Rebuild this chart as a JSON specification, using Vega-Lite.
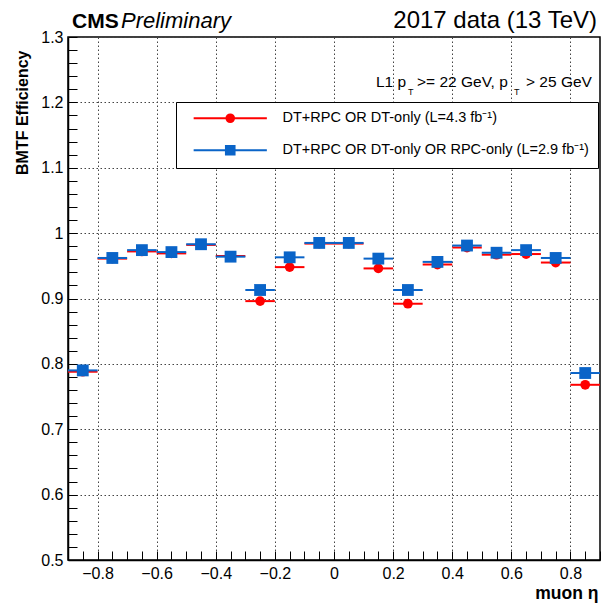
{
  "$schema": "https://vega.github.io/schema/vega-lite/v6.json",
  "width": 532,
  "height": 523,
  "autosize": {"type": "none"},
  "padding": {"left": 68, "top": 37, "right": 3, "bottom": 46},
  "background": "white",
  "config": {
    "view": {"stroke": "black", "strokeWidth": 1.5},
    "font": "Liberation Sans"
  },
  "datasets": {
    "eff": [
      {"eta": -0.85, "etaLo": -0.9, "etaHi": -0.8, "eff": 0.788, "series": "DT+RPC OR DT-only (L=4.3 fb⁻¹)"},
      {"eta": -0.75, "etaLo": -0.8, "etaHi": -0.7, "eff": 0.961, "series": "DT+RPC OR DT-only (L=4.3 fb⁻¹)"},
      {"eta": -0.65, "etaLo": -0.7, "etaHi": -0.6, "eff": 0.972, "series": "DT+RPC OR DT-only (L=4.3 fb⁻¹)"},
      {"eta": -0.55, "etaLo": -0.6, "etaHi": -0.5, "eff": 0.969, "series": "DT+RPC OR DT-only (L=4.3 fb⁻¹)"},
      {"eta": -0.45, "etaLo": -0.5, "etaHi": -0.4, "eff": 0.982, "series": "DT+RPC OR DT-only (L=4.3 fb⁻¹)"},
      {"eta": -0.35, "etaLo": -0.4, "etaHi": -0.3, "eff": 0.965, "series": "DT+RPC OR DT-only (L=4.3 fb⁻¹)"},
      {"eta": -0.25, "etaLo": -0.3, "etaHi": -0.2, "eff": 0.896, "series": "DT+RPC OR DT-only (L=4.3 fb⁻¹)"},
      {"eta": -0.15, "etaLo": -0.2, "etaHi": -0.1, "eff": 0.948, "series": "DT+RPC OR DT-only (L=4.3 fb⁻¹)"},
      {"eta": -0.05, "etaLo": -0.1, "etaHi": 0.0, "eff": 0.984, "series": "DT+RPC OR DT-only (L=4.3 fb⁻¹)"},
      {"eta": 0.05, "etaLo": 0.0, "etaHi": 0.1, "eff": 0.984, "series": "DT+RPC OR DT-only (L=4.3 fb⁻¹)"},
      {"eta": 0.15, "etaLo": 0.1, "etaHi": 0.2, "eff": 0.946, "series": "DT+RPC OR DT-only (L=4.3 fb⁻¹)"},
      {"eta": 0.25, "etaLo": 0.2, "etaHi": 0.3, "eff": 0.892, "series": "DT+RPC OR DT-only (L=4.3 fb⁻¹)"},
      {"eta": 0.35, "etaLo": 0.3, "etaHi": 0.4, "eff": 0.952, "series": "DT+RPC OR DT-only (L=4.3 fb⁻¹)"},
      {"eta": 0.45, "etaLo": 0.4, "etaHi": 0.5, "eff": 0.978, "series": "DT+RPC OR DT-only (L=4.3 fb⁻¹)"},
      {"eta": 0.55, "etaLo": 0.5, "etaHi": 0.6, "eff": 0.967, "series": "DT+RPC OR DT-only (L=4.3 fb⁻¹)"},
      {"eta": 0.65, "etaLo": 0.6, "etaHi": 0.7, "eff": 0.968, "series": "DT+RPC OR DT-only (L=4.3 fb⁻¹)"},
      {"eta": 0.75, "etaLo": 0.7, "etaHi": 0.8, "eff": 0.955, "series": "DT+RPC OR DT-only (L=4.3 fb⁻¹)"},
      {"eta": 0.85, "etaLo": 0.8, "etaHi": 0.9, "eff": 0.768, "series": "DT+RPC OR DT-only (L=4.3 fb⁻¹)"},
      {"eta": -0.85, "etaLo": -0.9, "etaHi": -0.8, "eff": 0.790, "series": "DT+RPC OR DT-only OR RPC-only (L=2.9 fb⁻¹)"},
      {"eta": -0.75, "etaLo": -0.8, "etaHi": -0.7, "eff": 0.962, "series": "DT+RPC OR DT-only OR RPC-only (L=2.9 fb⁻¹)"},
      {"eta": -0.65, "etaLo": -0.7, "etaHi": -0.6, "eff": 0.974, "series": "DT+RPC OR DT-only OR RPC-only (L=2.9 fb⁻¹)"},
      {"eta": -0.55, "etaLo": -0.6, "etaHi": -0.5, "eff": 0.971, "series": "DT+RPC OR DT-only OR RPC-only (L=2.9 fb⁻¹)"},
      {"eta": -0.45, "etaLo": -0.5, "etaHi": -0.4, "eff": 0.983, "series": "DT+RPC OR DT-only OR RPC-only (L=2.9 fb⁻¹)"},
      {"eta": -0.35, "etaLo": -0.4, "etaHi": -0.3, "eff": 0.964, "series": "DT+RPC OR DT-only OR RPC-only (L=2.9 fb⁻¹)"},
      {"eta": -0.25, "etaLo": -0.3, "etaHi": -0.2, "eff": 0.913, "series": "DT+RPC OR DT-only OR RPC-only (L=2.9 fb⁻¹)"},
      {"eta": -0.15, "etaLo": -0.2, "etaHi": -0.1, "eff": 0.963, "series": "DT+RPC OR DT-only OR RPC-only (L=2.9 fb⁻¹)"},
      {"eta": -0.05, "etaLo": -0.1, "etaHi": 0.0, "eff": 0.985, "series": "DT+RPC OR DT-only OR RPC-only (L=2.9 fb⁻¹)"},
      {"eta": 0.05, "etaLo": 0.0, "etaHi": 0.1, "eff": 0.985, "series": "DT+RPC OR DT-only OR RPC-only (L=2.9 fb⁻¹)"},
      {"eta": 0.15, "etaLo": 0.1, "etaHi": 0.2, "eff": 0.961, "series": "DT+RPC OR DT-only OR RPC-only (L=2.9 fb⁻¹)"},
      {"eta": 0.25, "etaLo": 0.2, "etaHi": 0.3, "eff": 0.913, "series": "DT+RPC OR DT-only OR RPC-only (L=2.9 fb⁻¹)"},
      {"eta": 0.35, "etaLo": 0.3, "etaHi": 0.4, "eff": 0.956, "series": "DT+RPC OR DT-only OR RPC-only (L=2.9 fb⁻¹)"},
      {"eta": 0.45, "etaLo": 0.4, "etaHi": 0.5, "eff": 0.981, "series": "DT+RPC OR DT-only OR RPC-only (L=2.9 fb⁻¹)"},
      {"eta": 0.55, "etaLo": 0.5, "etaHi": 0.6, "eff": 0.970, "series": "DT+RPC OR DT-only OR RPC-only (L=2.9 fb⁻¹)"},
      {"eta": 0.65, "etaLo": 0.6, "etaHi": 0.7, "eff": 0.974, "series": "DT+RPC OR DT-only OR RPC-only (L=2.9 fb⁻¹)"},
      {"eta": 0.75, "etaLo": 0.7, "etaHi": 0.8, "eff": 0.962, "series": "DT+RPC OR DT-only OR RPC-only (L=2.9 fb⁻¹)"},
      {"eta": 0.85, "etaLo": 0.8, "etaHi": 0.9, "eff": 0.786, "series": "DT+RPC OR DT-only OR RPC-only (L=2.9 fb⁻¹)"}
    ]
  },
  "data": {"name": "eff"},
  "layer": [
    {
      "mark": {"type": "rule", "strokeWidth": 2},
      "encoding": {
        "x": {
          "field": "etaLo", "type": "quantitative",
          "scale": {"domain": [-0.9, 0.9], "nice": false, "zero": false},
          "axis": {
            "values": [-0.9,-0.85,-0.8,-0.75,-0.7,-0.65,-0.6,-0.55,-0.5,-0.45,-0.4,-0.35,-0.3,-0.25,-0.2,-0.15,-0.1,-0.05,0,0.05,0.1,0.15,0.2,0.25,0.3,0.35,0.4,0.45,0.5,0.55,0.6,0.65,0.7,0.75,0.8,0.85,0.9],
            "tickCount": 37,
            "format": ".1~f",
            "labelExpr": "abs(datum.value*5 - round(datum.value*5)) < 0.000001 ? datum.label : ''",
            "ticks": true,
            "tickSize": -9,
            "gridOpacity": {"condition": {"test": "abs(datum.value*5 - round(datum.value*5)) < 0.000001", "value": 1}, "value": 0},
            "grid": true, "gridColor": "#444", "gridDash": [1.5, 2.5], "gridWidth": 1,
            "tickColor": "black", "tickWidth": 1, "tickOpacity": 1,
            "domainColor": "black", "domainWidth": 1.5,
            "labelFont": "Liberation Sans", "labelFontSize": 16, "labelColor": "black", "labelPadding": 14,
            "labelFlush": false, "labelOverlap": false,
            "title": "muon η", "titleFont": "Liberation Sans", "titleFontSize": 17.5, "titleFontWeight": "bold", "titleColor": "black",
            "titleAnchor": "end", "titleAlign": "right", "titleX": 530, "titleY": 38, "titleBaseline": "alphabetic"
          }
        },
        "x2": {"field": "etaHi"},
        "y": {
          "field": "eff", "type": "quantitative",
          "scale": {"domain": [0.5, 1.3], "nice": false, "zero": false},
          "axis": {
            "values": [0.5,0.52,0.54,0.56,0.58,0.6,0.62,0.64,0.66,0.68,0.7,0.72,0.74,0.76,0.78,0.8,0.82,0.84,0.86,0.88,0.9,0.92,0.94,0.96,0.98,1,1.02,1.04,1.06,1.08,1.1,1.12,1.14,1.16,1.18,1.2,1.22,1.24,1.26,1.28,1.3],
            "tickCount": 41,
            "format": ".1~f",
            "labelExpr": "abs(datum.value*10 - round(datum.value*10)) < 0.000001 ? datum.label : ''",
            "ticks": true,
            "tickSize": -9,
            "gridOpacity": {"condition": {"test": "abs(datum.value*10 - round(datum.value*10)) < 0.000001", "value": 1}, "value": 0},
            "grid": true, "gridColor": "#444", "gridDash": [1.5, 2.5], "gridWidth": 1,
            "tickColor": "black", "tickWidth": 1, "tickOpacity": 1,
            "domainColor": "black", "domainWidth": 1.5,
            "labelFont": "Liberation Sans", "labelFontSize": 16, "labelColor": "black", "labelPadding": 14,
            "labelFlush": false, "labelOverlap": false,
            "title": "BMTF Efficiency", "titleFont": "Liberation Sans", "titleFontSize": 16, "titleFontWeight": "bold", "titleColor": "black",
            "titleAnchor": "end", "titleX": -41, "titleY": 13, "titleBaseline": "alphabetic", "titleAlign": "right", "titleAngle": -90
          }
        },
        "color": {
          "field": "series", "type": "nominal",
          "scale": {"domain": ["DT+RPC OR DT-only (L=4.3 fb⁻¹)", "DT+RPC OR DT-only OR RPC-only (L=2.9 fb⁻¹)"], "range": ["#ff0000", "#0a64c8"]}
        }
      }
    },
    {
      "transform": [{"filter": {"field": "series", "equal": "DT+RPC OR DT-only (L=4.3 fb⁻¹)"}}],
      "mark": {"type": "point", "filled": true, "opacity": 1, "shape": "circle", "size": 95},
      "encoding": {
        "x": {"field": "eta", "type": "quantitative"},
        "y": {"field": "eff", "type": "quantitative"},
        "color": {"field": "series", "type": "nominal"}
      }
    },
    {
      "transform": [{"filter": {"field": "series", "equal": "DT+RPC OR DT-only OR RPC-only (L=2.9 fb⁻¹)"}}],
      "mark": {"type": "point", "filled": true, "opacity": 1, "shape": "square", "size": 140},
      "encoding": {
        "x": {"field": "eta", "type": "quantitative"},
        "y": {"field": "eff", "type": "quantitative"},
        "color": {"field": "series", "type": "nominal"}
      }
    },
    {
      "mark": {"type": "point", "filled": false, "opacity": 0, "strokeWidth": 2},
      "encoding": {
        "x": {"field": "eta", "type": "quantitative"},
        "y": {"field": "eff", "type": "quantitative"},
        "shape": {
          "field": "series", "type": "nominal",
          "scale": {
            "domain": ["DT+RPC OR DT-only (L=4.3 fb⁻¹)", "DT+RPC OR DT-only OR RPC-only (L=2.9 fb⁻¹)"],
            "range": [
              "M-6.1,0H6.1M0.633,0A0.633,0.633,0,1,1,-0.633,0A0.633,0.633,0,1,1,0.633,0M0.3,0A0.3,0.3,0,1,1,-0.3,0A0.3,0.3,0,1,1,0.3,0M0.08,0A0.08,0.08,0,1,1,-0.08,0A0.08,0.08,0,1,1,0.08,0",
              "M-6.1,0H6.1M-0.717,-0.717H0.717V0.717H-0.717ZM-0.383,-0.383H0.383V0.383H-0.383ZM-0.06,-0.06H0.06V0.06H-0.06Z"
            ]
          },
          "legend": null
        },
        "color": {
          "field": "series", "type": "nominal",
          "legend": {
            "title": null, "orient": "none", "legendX": 108, "legendY": 65, "direction": "vertical",
            "strokeColor": "black", "fillColor": "white", "cornerRadius": 0,
            "padding": 9, "rowPadding": 14,
            "labelFont": "Liberation Sans", "labelFontSize": 14.5, "labelLimit": 500, "labelColor": "black",
            "symbolOffset": 38, "labelOffset": 45, "symbolSize": 144, "symbolStrokeWidth": 2, "symbolOpacity": 1
          }
        }
      }
    },
    {
      "data": {"values": [{}]},
      "mark": {"type": "text", "align": "left", "baseline": "alphabetic", "dx": 4, "dy": -9, "fontSize": 21, "fontWeight": "bold", "font": "Liberation Sans", "color": "black"},
      "encoding": {"x": {"datum": -0.9}, "y": {"datum": 1.3}, "text": {"value": "CMS"}}
    },
    {
      "data": {"values": [{}]},
      "mark": {"type": "text", "align": "left", "baseline": "alphabetic", "dx": 53, "dy": -9, "fontSize": 22, "fontStyle": "italic", "font": "Liberation Sans", "color": "black"},
      "encoding": {"x": {"datum": -0.9}, "y": {"datum": 1.3}, "text": {"value": "Preliminary"}}
    },
    {
      "data": {"values": [{}]},
      "mark": {"type": "text", "align": "right", "baseline": "alphabetic", "dx": -3, "dy": -9, "fontSize": 24, "font": "Liberation Sans", "color": "black"},
      "encoding": {"x": {"datum": 0.9}, "y": {"datum": 1.3}, "text": {"value": "2017 data (13 TeV)"}}
    },
    {
      "data": {"values": [{}]},
      "mark": {"type": "text", "align": "left", "baseline": "alphabetic", "dx": -224, "fontSize": 15.5, "font": "Liberation Sans", "color": "black"},
      "encoding": {"x": {"datum": 0.9}, "y": {"datum": 1.2235}, "text": {"value": "L1 p"}}
    },
    {
      "data": {"values": [{}]},
      "mark": {"type": "text", "align": "left", "baseline": "alphabetic", "dx": -192, "dy": 8, "fontSize": 9, "font": "Liberation Sans", "color": "black"},
      "encoding": {"x": {"datum": 0.9}, "y": {"datum": 1.2235}, "text": {"value": "T"}}
    },
    {
      "data": {"values": [{}]},
      "mark": {"type": "text", "align": "left", "baseline": "alphabetic", "dx": -183, "fontSize": 15.5, "font": "Liberation Sans", "color": "black"},
      "encoding": {"x": {"datum": 0.9}, "y": {"datum": 1.2235}, "text": {"value": ">= 22 GeV, p"}}
    },
    {
      "data": {"values": [{}]},
      "mark": {"type": "text", "align": "left", "baseline": "alphabetic", "dx": -86, "dy": 8, "fontSize": 9, "font": "Liberation Sans", "color": "black"},
      "encoding": {"x": {"datum": 0.9}, "y": {"datum": 1.2235}, "text": {"value": "T"}}
    },
    {
      "data": {"values": [{}]},
      "mark": {"type": "text", "align": "left", "baseline": "alphabetic", "dx": -74, "fontSize": 15.5, "font": "Liberation Sans", "color": "black"},
      "encoding": {"x": {"datum": 0.9}, "y": {"datum": 1.2235}, "text": {"value": "> 25 GeV"}}
    }
  ]
}
